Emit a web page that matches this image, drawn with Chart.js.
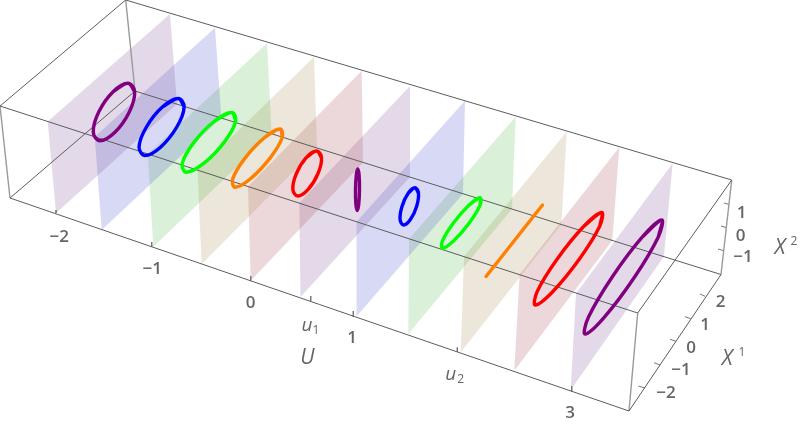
<!DOCTYPE html>
<html>
<head>
<meta charset="utf-8">
<style>
  html, body { margin: 0; padding: 0; background: #fff; }
  canvas { display: block; }
</style>
<script src="https://cdn.jsdelivr.net/npm/chart.js@4/dist/chart.umd.min.js"></script>
</head>
<body>
<canvas id="chart" width="800" height="428"></canvas>
<script>
var boxEdges = [
    [[125.7, 0], [731.7, 180]],
    [[0, 106], [637.7, 313]],
    [[135, 91], [721, 274.5]],
    [[10, 198], [629, 411]],
    [[125.7, 0], [0, 106]],
    [[135, 91], [10, 198]],
    [[731.7, 180], [637.7, 313]],
    [[721, 274.5], [629, 411]]
];
var boxUprights = [
    [[0, 106], [10, 198]],
    [[125.7, 0], [135, 91]],
    [[731.7, 180], [721, 274.5]],
    [[637.7, 313], [629, 411]]
];

var tickMarks = [
    [[56, 210], [56, 213]],
    [[151.7, 242], [151.7, 247]],
    [[250.7, 276], [250.7, 281]],
    [[310.7, 296], [310.7, 301]],
    [[353.3, 311], [353.3, 317]],
    [[457.3, 347.5], [457.3, 352]],
    [[571.7, 386], [571.7, 391.5]],
    [[700, 294], [705, 296.3]],
    [[685, 316.7], [690.7, 318.7]],
    [[670, 339.3], [676, 341.3]],
    [[654, 362.7], [660, 365]],
    [[638.3, 386], [645, 388]],
    [[724, 203], [729, 204.5]],
    [[721, 226], [726, 227.5]],
    [[718, 249], [723, 250.5]]
];

var sheetColors = ['purple', 'blue', 'green', 'orange', 'red', 'purple', 'blue', 'green', 'orange', 'red', 'purple'];
var paleColors = {
    purple: 'rgba(115,65,140,0.2)',
    blue: 'rgba(60,70,205,0.2)',
    green: 'rgba(70,180,60,0.2)',
    orange: 'rgba(165,130,70,0.2)',
    red: 'rgba(160,60,70,0.2)'
};
var ringColors = { purple: '#800080', blue: '#0000ff', green: '#00ff00', orange: '#ff8000', red: '#ff0000' };

var sheets = [
    [[47.7, 121.5], [170, 14], [177, 104], [56, 213]],
    [[94.7, 136.7], [215, 27.7], [221.3, 118], [101.7, 230]],
    [[147.8, 154], [267, 43.3], [271.6, 133.8], [153.3, 246.7]],
    [[197.5, 170], [314, 57], [317, 148], [201.7, 264]],
    [[248, 186.5], [361.7, 70.7], [363, 162.4], [250.7, 280.7]],
    [[299.3, 203], [410, 86], [410, 177], [300.5, 297]],
    [[356.5, 221.7], [465, 100.7], [463, 193.7], [356, 317]],
    [[409, 239], [515.7, 116.7], [512, 209], [408.3, 334]],
    [[464, 256.6], [566.7, 131.7], [561.4, 224.5], [460.7, 352.3]],
    [[519.6, 274.6], [619.3, 147.3], [612.3, 240.5], [514.3, 370.7]],
    [[576, 293.5], [672.7, 163.3], [663.9, 256.6], [570.7, 390]]
];

var rings = [
    [[128, 83.25], [134.7, 91.7], [129.3, 112], [114.9, 132.3], [100, 140.75], [93.3, 132.3], [98.7, 112], [113.1, 91.7]],
    [[178.3, 98.5], [184.15, 106.85], [176.8, 127], [160.55, 147.15], [144.9, 155.5], [139.05, 147.15], [146.4, 127], [162.65, 106.85]],
    [[231.7, 112.5], [235.75, 121.25], [224.1, 142.35], [203.65, 163.45], [186.3, 172.2], [182.25, 163.45], [193.9, 142.35], [214.35, 121.25]],
    [[280, 129], [282.25, 137.5], [270, 158.1], [250.45, 178.7], [235, 187.2], [232.75, 178.7], [245, 158.1], [264.55, 137.5]],
    [[316.7, 151], [321.55, 157.6], [318, 173.5], [308.15, 189.4], [297.7, 196], [292.85, 189.4], [296.4, 173.5], [306.25, 157.6]],
    [[357.8, 169], [359.1, 175.05], [359.5, 189.75], [358.7, 204.45], [357.2, 210.5], [355.9, 204.45], [355.5, 189.75], [356.3, 175.05]],
    [[415, 187.8], [418.5, 193.25], [416.6, 206.4], [410.4, 219.55], [403.6, 225], [400.1, 219.55], [402, 206.4], [408.2, 193.25]],
    [[480, 197.75], [480.1, 205.15], [469.2, 223], [453.7, 240.85], [442.6, 248.25], [442.5, 240.85], [453.4, 223], [468.9, 205.15]],
    [[542.5, 205], [514.25, 240.75], [486, 276.5], [514.25, 240.75]],
    [[601.7, 212.5], [599.8, 226.05], [579.6, 258.75], [552.9, 291.45], [535.3, 305], [537.2, 291.45], [557.4, 258.75], [584.1, 226.05]],
    [[661.7, 220], [658.4, 236.7], [634.6, 277], [604.2, 317.3], [585.1, 334], [588.4, 317.3], [612.2, 277], [642.6, 236.7]]
];

var uTickLabels = ['\u22122', '\u22121', '0', '1', '3'];
var x1TickLabels = ['2', '1', '0', '\u22121', '\u22122'];
var x2TickLabels = ['1', '0', '\u22121'];

var uTickSpots = [[59.3, 236.7], [152.3, 269.3], [250.7, 303.3], [352, 338.3], [570, 413.3]];
var x1TickSpots = [[720.7, 302.3], [705, 325], [691, 347.7], [681, 370], [666, 393.3]];
var x2TickSpots = [[741.7, 212.7], [740.7, 235.7], [743, 256.7]];

function toPoints(list) {
    return list.map(function (p) { return { x: p[0], y: p[1] }; });
}

// repeat neighbours around the seam so the bezier stays smooth when the ring closes
function closeRing(list) {
    return list.slice(-1).concat(list, list.slice(0, 2));
}

function lineDataset(list, color, width, order) {
    return {
        data: toPoints(list),
        showLine: true,
        borderColor: color,
        borderWidth: width,
        pointRadius: 0,
        fill: false,
        tension: 0,
        clip: false,
        order: order
    };
}

var datasets = [];

sheets.forEach(function (sheet, i) {
    var d = lineDataset(sheet.concat([sheet[0]]), 'rgba(0,0,0,0)', 0, 5);
    d.fill = 'shape';
    d.backgroundColor = paleColors[sheetColors[i]];
    datasets.push(d);
});
boxEdges.forEach(function (edge) { datasets.push(lineDataset(edge, '#5c5c5c', 1, 3)); });
boxUprights.forEach(function (edge) { datasets.push(lineDataset(edge, '#9a9a9a', 1.4, 3)); });
tickMarks.forEach(function (tick) { datasets.push(lineDataset(tick, '#777777', 1, 3)); });
rings.forEach(function (ring, i) {
    var d = lineDataset(closeRing(ring), ringColors[sheetColors[i]], 3.4, 1);
    d.tension = 0.375;
    d.borderCapStyle = 'round';
    d.borderJoinStyle = 'round';
    datasets.push(d);
});

// Tick labels and axis names go through the same scales as the marks
var boxLabels = {
    id: 'boxLabels',
    afterDatasetsDraw: function (chart) {
        var ctx = chart.ctx;
        var sx = chart.scales.x;
        var sy = chart.scales.y;
        var put = function (text, spot, font) {
            ctx.font = font;
            ctx.fillText(text, sx.getPixelForValue(spot[0]), sy.getPixelForValue(spot[1]));
        };
        var tickFont = '600 17px "Open Sans", sans-serif';
        var nameFont = 'italic 500 21px "Open Sans", sans-serif';
        var smallName = 'italic 500 19px "Open Sans", sans-serif';
        var subFont = '500 12px "Open Sans", sans-serif';

        ctx.save();
        ctx.fillStyle = '#666666';
        ctx.textAlign = 'center';
        ctx.textBaseline = 'middle';
        uTickLabels.forEach(function (t, i) { put(t, uTickSpots[i], tickFont); });
        x1TickLabels.forEach(function (t, i) { put(t, x1TickSpots[i], tickFont); });
        x2TickLabels.forEach(function (t, i) { put(t, x2TickSpots[i], tickFont); });
        put('U', [307.3, 358], nameFont);
        put('u', [307, 325.7], smallName);
        put('1', [316, 331], subFont);
        put('u', [450.7, 375], smallName);
        put('2', [460.7, 379.7], subFont);
        put('X', [727.3, 359.3], nameFont);
        put('1', [742, 352.7], subFont);
        put('X', [780, 248], nameFont);
        put('2', [794, 241.7], subFont);
        ctx.restore();
    }
};

new Chart(document.getElementById('chart').getContext('2d'), {
    type: 'scatter',
    data: { datasets: datasets },
    options: {
        responsive: false,
        animation: false,
        layout: { padding: 0 },
        plugins: {
            legend: { display: false },
            tooltip: { enabled: false },
            title: { display: false }
        },
        scales: {
            x: { type: 'linear', display: false, min: 0, max: 800 },
            y: { type: 'linear', display: false, min: 0, max: 428, reverse: true }
        }
    },
    plugins: [boxLabels]
});
</script>
</body>
</html>
